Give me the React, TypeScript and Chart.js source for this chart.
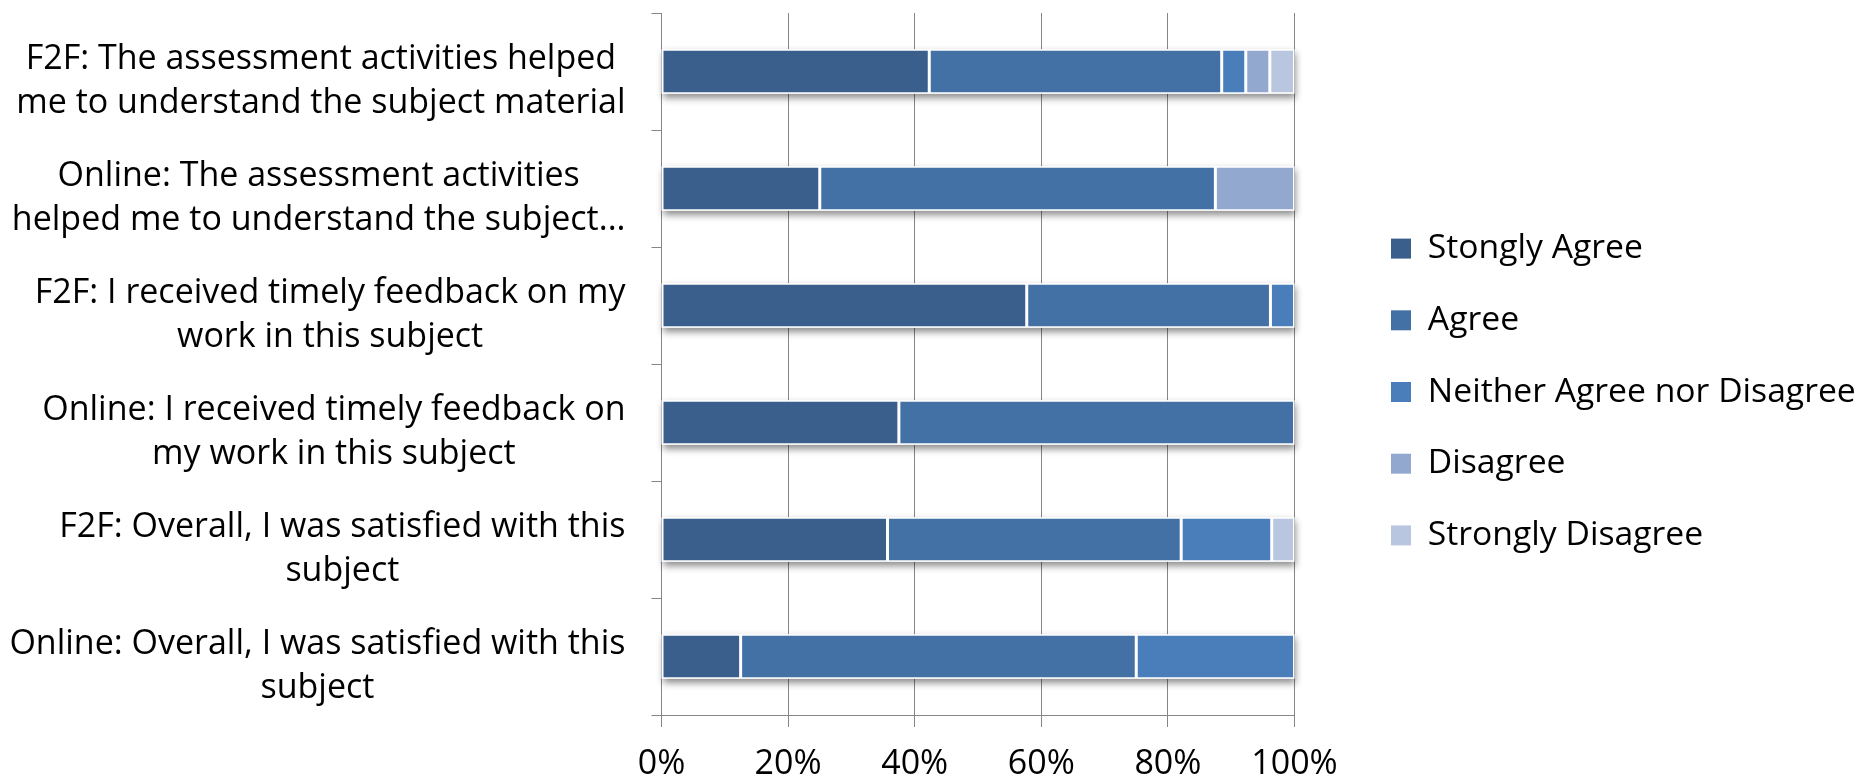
import React, { useEffect, useRef } from 'react';
import { Chart, registerables } from 'chart.js';

Chart.register(...registerables);

// ---------------- data ----------------
const categories: string[][] = [
  ['F2F: The assessment activities helped', 'me to understand the subject material'],
  ['Online: The assessment activities', 'helped me to understand the subject...'],
  ['F2F: I received timely feedback on my', 'work in this subject'],
  ['Online: I received timely feedback on', 'my work in this subject'],
  ['F2F: Overall, I was satisfied with this', 'subject'],
  ['Online: Overall, I was satisfied with this', 'subject'],
];

const seriesNames = ['Stongly Agree', 'Agree', 'Neither Agree nor Disagree', 'Disagree', 'Strongly Disagree'];

const stronglyAgree = [42.3, 25.0, 57.7, 37.5, 35.7, 12.5];
const agree = [46.2, 62.5, 38.5, 62.5, 46.4, 62.5];
const neither = [3.8, 0, 3.8, 0, 14.3, 25.0];
const disagree = [3.8, 12.5, 0, 0, 0, 0];
const stronglyDisagree = [3.9, 0, 0, 0, 3.6, 0];

const xTickValues = [0, 20, 40, 60, 80, 100];

// ---------------- style / layout ----------------
const seriesColors = ['#3A5F8D', '#4471A5', '#4A7EBB', '#93A8CF', '#B8C6E0'];
const W = 1868;
const H = 780;
const PLOT_LEFT = 661.5;
const PLOT_RIGHT = 1294.5;
const PLOT_TOP = 13;
const PLOT_BOTTOM = 715;
const LEGEND_BOX_X = 1391;
const LEGEND_PAD = 38;
const GRID = '#868686';
const FONT = "'Open Sans', 'Noto Sans', sans-serif";
const Y_FONT_SIZE = 34;
const Y_LINE_H = 44.5;
const Y_LABEL_RIGHT = 625.5;
const Y_LABEL_SHIFT = 10;

const barShadow = {
  id: 'barShadow',
  beforeDatasetsDraw(chart: any) {
    const meta0 = chart.getDatasetMeta(0);
    const xs = chart.scales.x;
    const ctx = chart.ctx;
    ctx.save();
    meta0.data.forEach((bar: any, i: number) => {
      const total = chart.data.datasets.reduce((s: number, d: any) => s + (d.data[i] || 0), 0);
      const { y, height } = bar.getProps(['y', 'height'], true);
      const left = xs.getPixelForValue(0);
      const right = xs.getPixelForValue(Math.min(total, 100));
      ctx.shadowColor = 'rgba(0,0,0,0.45)';
      ctx.shadowBlur = 7;
      ctx.shadowOffsetX = 1;
      ctx.shadowOffsetY = 4;
      ctx.fillStyle = '#ffffff';
      ctx.fillRect(left, y - height / 2, right - left, height);
    });
    ctx.restore();
  },
};

// Category labels, Excel-style: each label block right-aligned, its lines centred within the block.
const yLabels = {
  id: 'yLabels',
  afterDraw(chart: any) {
    const ys = chart.scales.y;
    const ctx = chart.ctx;
    ctx.save();
    ctx.font = `${Y_FONT_SIZE}px ${FONT}`;
    ctx.fillStyle = '#000';
    ctx.textBaseline = 'middle';
    ctx.textAlign = 'center';
    (chart.data.labels as string[][]).forEach((lines, i) => {
      const yc = ys.getPixelForTick(i) + Y_LABEL_SHIFT;
      const bw = Math.max(...lines.map((l) => ctx.measureText(l).width));
      const cx = Y_LABEL_RIGHT - bw / 2;
      lines.forEach((l, k) => ctx.fillText(l, cx, yc + (k - (lines.length - 1) / 2) * Y_LINE_H));
    });
    ctx.restore();
  },
};

const legendPlacer = {
  id: 'legendPlacer',
  beforeLayout(chart: any) {
    const lg: any = chart.legend;
    if (lg && !lg.__patched) {
      const orig = lg.fit;
      lg.fit = function () {
        orig.call(this);
        this.width = W - PLOT_RIGHT;
      };
      lg.__patched = true;
    }
  },
  afterLayout(chart: any) {
    const lg: any = chart.legend;
    if (lg) {
      lg.left = LEGEND_BOX_X - LEGEND_PAD;
      lg.right = W;
      lg.top = 4;
      lg.bottom = H;
    }
  },
};

export default function App() {
  const ref = useRef<HTMLCanvasElement | null>(null);

  useEffect(() => {
    if (!ref.current) return;
    const values = [stronglyAgree, agree, neither, disagree, stronglyDisagree];
    const chart = new Chart(ref.current, {
      type: 'bar',
      data: {
        labels: categories as any,
        datasets: seriesNames.map((name, k) => ({
          label: name,
          data: values[k],
          backgroundColor: seriesColors[k],
          borderColor: '#ffffff',
          borderWidth: 1.5,
          borderSkipped: false,
          barPercentage: 0.38,
          categoryPercentage: 1,
        })),
      },
      options: {
        indexAxis: 'y',
        responsive: false,
        animation: false,
        layout: { padding: { top: PLOT_TOP, left: 0, right: 0, bottom: 0 } },
        font: { family: FONT },
        scales: {
          x: {
            stacked: true,
            min: 0,
            max: 100,
            afterBuildTicks: (s: any) => {
              s.ticks = xTickValues.map((v) => ({ value: v }));
            },
            afterFit: (s: any) => {
              s.height = H - PLOT_BOTTOM;
              s.paddingLeft = 0;
              s.paddingRight = 0;
            },
            ticks: {
              callback: (v: any) => `${v}%`,
              color: '#000',
              font: { family: FONT, size: 34 },
              padding: 16.5,
              maxRotation: 0,
              autoSkip: false,
            },
            grid: { color: GRID, lineWidth: 1, tickLength: 12, drawTicks: true },
            border: { color: GRID, width: 1 },
          },
          y: {
            stacked: true,
            afterFit: (s: any) => {
              s.width = PLOT_LEFT;
              s.paddingTop = 0;
              s.paddingBottom = 0;
            },
            ticks: { display: false, autoSkip: false },
            grid: { drawOnChartArea: false, drawTicks: true, tickLength: 10, offset: true, color: GRID, lineWidth: 1 },
            border: { color: GRID, width: 1 },
          },
        },
        plugins: {
          tooltip: { enabled: false },
          legend: {
            position: 'right',
            align: 'center',
            labels: {
              color: '#000',
              font: { family: FONT, size: 33.7 },
              boxWidth: 20,
              boxHeight: 20,
              padding: LEGEND_PAD,
              generateLabels: (c: any) =>
                Chart.defaults.plugins.legend.labels.generateLabels(c).map((it: any) => ({ ...it, lineWidth: 0 })),
            },
          },
        },
      } as any,
      plugins: [barShadow, yLabels, legendPlacer],
    });
    return () => chart.destroy();
  }, []);

  return (
    <div style={{ position: 'absolute', left: 0, top: 0, width: W, height: H, background: '#fff' }}>
      <canvas ref={ref} width={W} height={H} style={{ display: 'block' }} />
    </div>
  );
}
